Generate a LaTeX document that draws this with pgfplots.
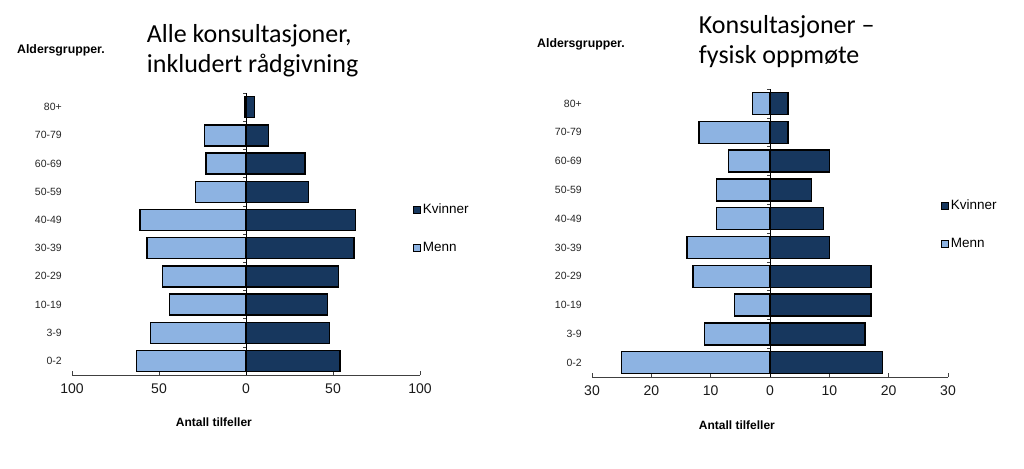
\documentclass[border=0pt]{standalone}
\usepackage{pgfplots}
\pgfplotsset{compat=1.18}
\usepackage{fontspec}
\setmainfont{Liberation Sans}
\newfontfamily\titlefont{Carlito}
\definecolor{kv}{HTML}{17375E}
\definecolor{me}{HTML}{8DB3E2}
\definecolor{axgray}{HTML}{404040}
\pgfplotsset{
  pyr/.style={
    scale only axis,
    xbar, bar shift=0pt,
    axis x line*=bottom, axis y line*=left,
    y axis line style={draw=none},
    x axis line style={axgray, line width=0.8pt},
    ytick style={draw=none},
    xtick style={axgray, line width=0.8pt},
    xtick align=inside, major tick length=4bp,
    ymin=-0.5, ymax=9.5,
    ytick={0,...,9},
    yticklabels={0-2,3-9,10-19,20-29,30-39,40-49,50-59,60-69,70-79,80+},
    yticklabel style={font=\fontsize{10.5bp}{12bp}\selectfont, text=black!85, inner sep=0pt, xshift=-6bp},
    xticklabel style={font=\fontsize{14bp}{16bp}\selectfont, text=black!90, inner sep=0pt, yshift=-9bp},
    /pgf/number format/assume math mode=true,
    every axis plot/.append style={draw=black, line width=1.4pt},
    reverse legend,
    legend style={draw=none, fill=none, font=\fontsize{13.5bp}{15bp}\selectfont, row sep=23bp, inner sep=0pt},
    legend cell align=left,
    legend image code/.code={\draw[#1, line width=0.7pt] (0bp,-3.5bp) rectangle (7bp,3.5bp);},
    clip=false,
  }
}
\begin{document}
\begin{tikzpicture}
\useasboundingbox (0,0) rectangle (1024bp,-469bp);
% Left chart
\begin{axis}[pyr,
  at={(72bp,-375bp)}, anchor=south west,
  width=348bp, height=282bp,
  xmin=-100, xmax=100,
  xtick={-100,-50,0,50,100}, xticklabels={100,50,0,50,100},
  bar width=21bp,
  legend style={at={(1.0,0.52)}, anchor=west, xshift=-7bp},
]
\addplot[fill=me] coordinates {(-1,9) (-24,8) (-23,7) (-29,6) (-61,5) (-57,4) (-48,3) (-44,2) (-55,1) (-63,0)};
\addlegendentry{Menn}
\addplot[fill=kv] coordinates {(5,9) (13,8) (34,7) (36,6) (63,5) (62,4) (53,3) (47,2) (48,1) (54,0)};
\addlegendentry{Kvinner}
\draw[black, line width=0.8pt] (axis cs:0,-0.5) -- (axis cs:0,9.5);
\pgfplotsinvokeforeach{-0.5,0.5,...,9.5}{\draw[axgray, line width=0.6pt] (axis cs:0,#1) -- ++(-3bp,0bp);}
\end{axis}
% Right chart
\begin{axis}[pyr,
  at={(592bp,-377bp)}, anchor=south west,
  width=356bp, height=288bp,
  xmin=-30, xmax=30,
  xtick={-30,-20,-10,0,10,20,30}, xticklabels={30,20,10,0,10,20,30},
  bar width=22bp,
  legend style={at={(1.0,0.53)}, anchor=west, xshift=-7bp},
]
\addplot[fill=me] coordinates {(-3,9) (-12,8) (-7,7) (-9,6) (-9,5) (-14,4) (-13,3) (-6,2) (-11,1) (-25,0)};
\addlegendentry{Menn}
\addplot[fill=kv] coordinates {(3,9) (3,8) (10,7) (7,6) (9,5) (10,4) (17,3) (17,2) (16,1) (19,0)};
\addlegendentry{Kvinner}
\draw[black, line width=0.8pt] (axis cs:0,-0.5) -- (axis cs:0,9.5);
\pgfplotsinvokeforeach{-0.5,0.5,...,9.5}{\draw[axgray, line width=0.6pt] (axis cs:0,#1) -- ++(-3bp,0bp);}
\end{axis}
% Titles
\node[anchor=base west, inner sep=0pt, font=\titlefont\fontsize{26bp}{30bp}\selectfont] at (146.7bp,-42bp) {Alle konsultasjoner,};
\node[anchor=base west, inner sep=0pt, font=\titlefont\fontsize{26bp}{30bp}\selectfont] at (146.7bp,-72bp) {inkludert rådgivning};
\node[anchor=base west, inner sep=0pt, font=\titlefont\fontsize{26bp}{30bp}\selectfont] at (698.7bp,-33bp) {Konsultasjoner –};
\node[anchor=base west, inner sep=0pt, font=\titlefont\fontsize{26bp}{30bp}\selectfont] at (698.7bp,-63bp) {fysisk oppmøte};
% Axis captions
\node[anchor=west, inner sep=0pt, font=\bfseries\fontsize{12.3bp}{14bp}\selectfont] at (17bp,-50bp) {Aldersgrupper.};
\node[anchor=west, inner sep=0pt, font=\bfseries\fontsize{12.3bp}{14bp}\selectfont] at (537bp,-44bp) {Aldersgrupper.};
\node[anchor=west, inner sep=0pt, font=\bfseries\fontsize{12bp}{14bp}\selectfont] at (175.7bp,-422bp) {Antall tilfeller};
\node[anchor=west, inner sep=0pt, font=\bfseries\fontsize{12bp}{14bp}\selectfont] at (698.7bp,-425bp) {Antall tilfeller};
\end{tikzpicture}
\end{document}
